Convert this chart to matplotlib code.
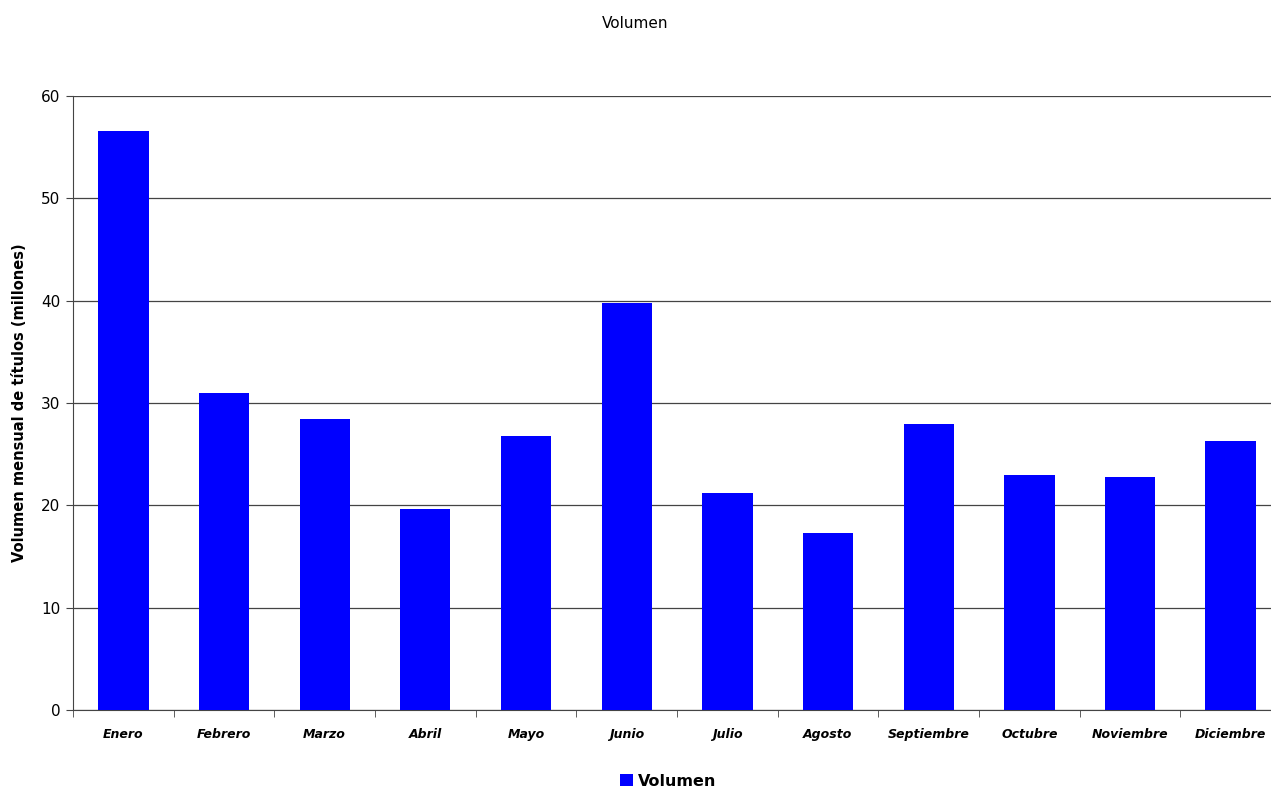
import matplotlib.pyplot as plt
import numpy as np

meses = ["Enero", "Febrero", "Marzo", "Abril", "Mayo", "Junio", "Julio",
         "Agosto", "Septiembre", "Octubre", "Noviembre", "Diciembre"]
volumen = [56.6, 31.0, 28.4, 19.6, 26.8, 39.8, 21.2, 17.3, 27.9, 23.0, 22.8, 26.3]
yticks = [0, 10, 20, 30, 40, 50, 60]

plt.rcParams['font.family'] = ['DejaVu Sans']

fig = plt.figure(figsize=(12.71, 7.88), dpi=100)
ax = fig.add_axes([73 / 1271, 78 / 788, 1208 / 1271, 614 / 788])

x = np.arange(len(meses))
bars = ax.bar(x, volumen, width=0.5, color="#0000ff", label="Volumen", zorder=3)

ax.set_xlim(-0.5, len(meses) - 0.5)
ax.set_ylim(0, 60)
ax.set_yticks(yticks)
ax.yaxis.grid(True, color="#444444", linewidth=0.9, zorder=0)
ax.tick_params(axis="y", labelsize=11, length=5, color="#444444", pad=4)

ax.set_xticks(x)
ax.set_xticklabels(meses, fontsize=9, fontweight="bold", fontstyle="italic")
ax.tick_params(axis="x", length=0, pad=13)
ax.set_xticks(np.arange(len(meses) + 1) - 0.5, minor=True)
ax.tick_params(axis="x", which="minor", length=5, color="#444444")

for s in ["top", "right"]:
    ax.spines[s].set_visible(False)
ax.spines["left"].set_color("#444444")
ax.spines["bottom"].set_color("#444444")

ax.set_ylabel("Volumen mensual de títulos (millones)", fontsize=10.5,
              fontweight="bold", labelpad=10)
fig.text(0.5, 1 - 24 / 788, "Volumen", ha="center", va="center", fontsize=11)

fig.legend(handles=[bars], labels=["Volumen"], loc="center",
           bbox_to_anchor=(668 / 1271, 1 - 781 / 788), frameon=False,
           prop={"weight": "bold", "size": 11.5}, handlelength=0.8,
           handleheight=0.8, handletextpad=0.3)

fig.savefig("out.png", dpi=100)
